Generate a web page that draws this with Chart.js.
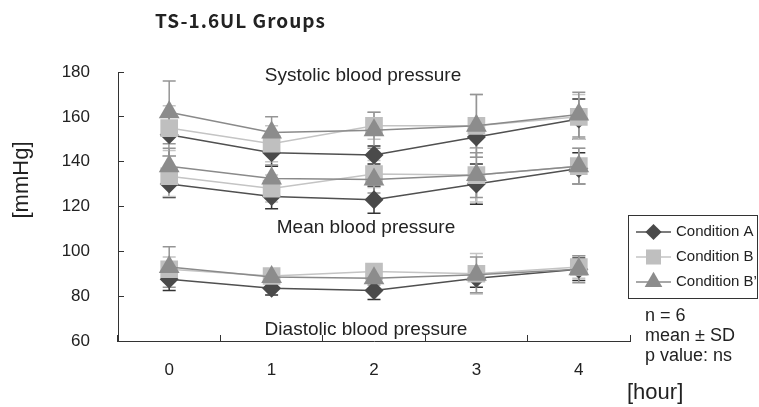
<!DOCTYPE html>
<html>
<head>
<meta charset="utf-8">
<script src="https://cdn.jsdelivr.net/npm/chart.js@4"></script>
<style>
  html, body { margin: 0; padding: 0; background: #fff; }
  #bp { display: block; }
</style>
</head>
<body>
<canvas id="bp" width="759" height="407"></canvas>
<script>
// values (mmHg), one row per condition
const hours = ['0', '1', '2', '3', '4'];
const yTicks = [60, 80, 100, 120, 140, 160, 180];

const sysA  = [152, 144, 143, 151, 159];
const sysB  = [155, 148, 156, 156, 160];
const sysB2 = [162, 153, 154, 156, 161];
const meanA  = [130, 124.5, 123, 130, 137];
const meanB  = [133.5, 128, 134.5, 134, 138];
const meanB2 = [138, 132.5, 132, 134, 138];
const diaA  = [87.5, 83.5, 82.5, 88, 92];
const diaB  = [92, 89, 91, 90, 93];
const diaB2 = [93, 88.5, 88, 89.5, 92];

// standard deviations
const sysA_sd  = [9.5, 6, 4, 5, 9];
const sysB_sd  = [10, 8, 6, 14, 10];
const sysB2_sd = [14, 7, 8, 14, 10];
const meanA_sd  = [6, 5.5, 6, 9, 7];
const meanB_sd  = [9, 6, 6, 12, 8];
const meanB2_sd = [8, 6, 6, 10, 8];
const diaA_sd  = [5, 3, 4, 4, 5];
const diaB_sd  = [5.5, 3, 3, 9, 5];
const diaB2_sd = [9, 3, 3, 8, 6];

const conditions = ['Condition A', 'Condition B', 'Condition B\u2019'];

const look = {
  'Condition A':       { line: '#505050', fill: '#4a4a4a', bar: '#333333', style: 'rectRot', r: 9.5, order: 3 },
  'Condition B':       { line: '#c4c4c4', fill: '#bfbfbf', bar: '#c4c4c4', style: 'rect', r: 12.5, order: 2 },
  'Condition B\u2019': { line: '#8a8a8a', fill: '#8c8c8c', bar: '#959595', style: 'triangle', r: 12, order: 1 }
};

const series = [
  ['Condition A', sysA, sysA_sd], ['Condition B', sysB, sysB_sd], ['Condition B\u2019', sysB2, sysB2_sd],
  ['Condition A', meanA, meanA_sd], ['Condition B', meanB, meanB_sd], ['Condition B\u2019', meanB2, meanB2_sd],
  ['Condition A', diaA, diaA_sd], ['Condition B', diaB, diaB_sd], ['Condition B\u2019', diaB2, diaB2_sd]
];

const datasets = series.map(([name, vals, sd]) => {
  const s = look[name];
  return {
    label: name,
    data: vals,
    sd: sd,
    barColor: s.bar,
    borderColor: s.line,
    borderWidth: 1.5,
    backgroundColor: s.fill,
    pointStyle: s.style,
    pointRadius: s.r,
    pointBorderWidth: 0,
    pointBackgroundColor: s.fill,
    order: s.order,
    tension: 0
  };
});

// SD whiskers, behind the markers
const errorBars = {
  id: 'errorBars',
  beforeDatasetsDraw(chart) {
    const ctx = chart.ctx;
    const y = chart.scales.y;
    const idx = chart.data.datasets.map((d, i) => i)
      .sort((a, b) => chart.data.datasets[b].order - chart.data.datasets[a].order);
    idx.forEach(i => {
      const ds = chart.data.datasets[i];
      const meta = chart.getDatasetMeta(i);
      ctx.save();
      ctx.strokeStyle = ds.barColor;
      ctx.lineWidth = 1.5;
      meta.data.forEach((pt, j) => {
        const top = y.getPixelForValue(ds.data[j] + ds.sd[j]);
        const bot = y.getPixelForValue(ds.data[j] - ds.sd[j]);
        ctx.beginPath();
        ctx.moveTo(pt.x, top); ctx.lineTo(pt.x, bot);
        ctx.moveTo(pt.x - 6.5, top); ctx.lineTo(pt.x + 6.5, top);
        ctx.moveTo(pt.x - 6.5, bot); ctx.lineTo(pt.x + 6.5, bot);
        ctx.stroke();
      });
      ctx.restore();
    });
  }
};

function marker(ctx, style, x, y, r, color) {
  ctx.fillStyle = color;
  ctx.beginPath();
  if (style === 'rectRot') {
    ctx.moveTo(x - r, y); ctx.lineTo(x, y - r); ctx.lineTo(x + r, y); ctx.lineTo(x, y + r);
  } else if (style === 'rect') {
    const h = r * Math.SQRT1_2;
    ctx.rect(x - h, y - h, 2 * h, 2 * h);
  } else {
    ctx.moveTo(x, y - r);
    ctx.lineTo(x + r * 0.866, y + r * 0.5);
    ctx.lineTo(x - r * 0.866, y + r * 0.5);
  }
  ctx.closePath();
  ctx.fill();
}

// titles, labels, legend box and notes
const texts = {
  id: 'texts',
  afterDraw(chart) {
    const ctx = chart.ctx;
    ctx.save();
    ctx.fillStyle = '#222';
    ctx.textBaseline = 'middle';

    ctx.font = 'bold 19px "Noto Sans CJK JP"';
    ctx.textAlign = 'left';
    ctx.letterSpacing = '1px';
    ctx.fillText('TS-1.6UL Groups', 155, 21);
    ctx.letterSpacing = '0px';

    ctx.font = '19px "Liberation Sans", Arial';
    ctx.textAlign = 'center';
    ctx.fillText('Systolic blood pressure', 363, 76);
    ctx.fillText('Mean blood pressure', 366, 228);
    ctx.fillText('Diastolic blood pressure', 366, 330);

    ctx.font = '22px "Liberation Sans", Arial';
    ctx.textAlign = 'left';
    ctx.fillText('[hour]', 627, 393);
    ctx.save();
    ctx.translate(22, 180);
    ctx.rotate(-Math.PI / 2);
    ctx.textAlign = 'center';
    ctx.fillText('[mmHg]', 0, 0);
    ctx.restore();

    // legend
    ctx.strokeStyle = '#333';
    ctx.lineWidth = 1;
    ctx.strokeRect(628.5, 215.5, 129, 83);
    ctx.font = '15px "Liberation Sans", Arial';
    conditions.forEach((name, k) => {
      const s = look[name];
      const yy = 232 + k * 25;
      ctx.strokeStyle = s.line;
      ctx.lineWidth = 1.5;
      ctx.beginPath();
      ctx.moveTo(636, yy); ctx.lineTo(671, yy);
      ctx.stroke();
      marker(ctx, s.style, 653.5, yy, s.r * 0.85, s.fill);
      ctx.fillStyle = '#222';
      ctx.fillText(name, 676, yy);
    });

    ctx.font = '18px "Liberation Sans", Arial';
    ctx.fillText('n = 6', 645, 316);
    ctx.fillText('mean \u00b1 SD', 645, 336);
    ctx.fillText('p value: ns', 645, 356);
    ctx.restore();
  }
};

new Chart(document.getElementById('bp'), {
  type: 'line',
  data: { labels: hours, datasets: datasets },
  plugins: [errorBars, texts],
  options: {
    responsive: false,
    animation: false,
    layout: { padding: { top: 72, right: 129, bottom: 0, left: 0 } },
    plugins: {
      legend: { display: false },
      tooltip: { enabled: false }
    },
    scales: {
      x: {
        type: 'category',
        offset: true,
        grid: { offset: true, drawOnChartArea: false, tickLength: -6, color: '#333', lineWidth: 1 },
        border: { color: '#333', width: 1 },
        ticks: { color: '#222', font: { family: '"Liberation Sans", Arial', size: 17 }, padding: 25 },
        afterFit(scale) { scale.height = 66; }
      },
      y: {
        min: 60,
        max: 180,
        afterBuildTicks(scale) { scale.ticks = yTicks.map(v => ({ value: v })); },
        grid: { drawOnChartArea: false, tickLength: -6, color: '#333', lineWidth: 1 },
        border: { color: '#333', width: 1 },
        ticks: { color: '#222', font: { family: '"Liberation Sans", Arial', size: 17 }, padding: 34 },
        afterFit(scale) { scale.width = 118; }
      }
    }
  }
});
</script>
</body>
</html>
